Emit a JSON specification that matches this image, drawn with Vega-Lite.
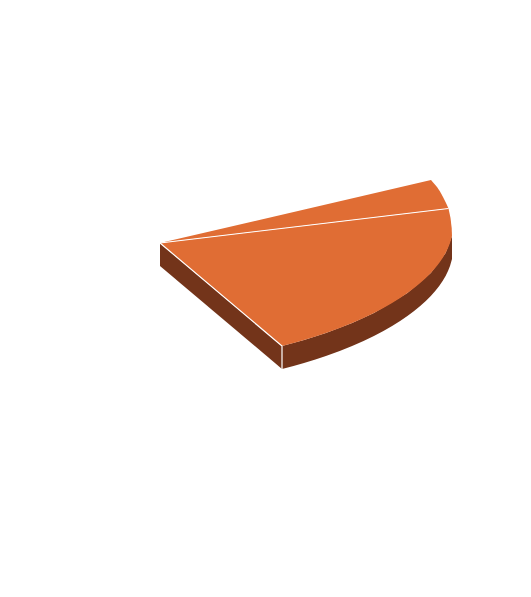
{"$schema":"https://vega.github.io/schema/vega-lite/v6.json","width":531,"height":597,"padding":0,"autosize":{"type":"fit","contains":"padding"},"background":"white","view":{"stroke":null},
"data":{"values":[
{"part":"side","i":1,"x":160,"y":243},{"part":"side","i":2,"x":160,"y":266},{"part":"side","i":3,"x":282,"y":369},{"part":"side","i":4,"x":282,"y":346},
{"part":"rim","i":1,"x":282,"y":346},{"part":"rim","i":2,"x":304,"y":340},{"part":"rim","i":3,"x":325.9,"y":333},{"part":"rim","i":4,"x":352.1,"y":323},{"part":"rim","i":5,"x":373.9,"y":313},{"part":"rim","i":6,"x":407.4,"y":293},{"part":"rim","i":7,"x":430.8,"y":273},{"part":"rim","i":8,"x":445.6,"y":253},{"part":"rim","i":9,"x":452,"y":236},
{"part":"rim","i":10,"x":452,"y":251},{"part":"rim","i":11,"x":452,"y":259},{"part":"rim","i":12,"x":450,"y":266},{"part":"rim","i":13,"x":448,"y":271},{"part":"rim","i":14,"x":445.6,"y":276},{"part":"rim","i":15,"x":442.6,"y":281},{"part":"rim","i":16,"x":439.2,"y":286},{"part":"rim","i":17,"x":435.2,"y":291},{"part":"rim","i":18,"x":430.8,"y":296},{"part":"rim","i":19,"x":425.8,"y":301},{"part":"rim","i":20,"x":420.2,"y":306},{"part":"rim","i":21,"x":414.1,"y":311},{"part":"rim","i":22,"x":407.4,"y":316},{"part":"rim","i":23,"x":400.1,"y":321},{"part":"rim","i":24,"x":392.1,"y":326},{"part":"rim","i":25,"x":383.4,"y":331},{"part":"rim","i":26,"x":373.9,"y":336},{"part":"rim","i":27,"x":363.5,"y":341},{"part":"rim","i":28,"x":352.1,"y":346},{"part":"rim","i":29,"x":339.7,"y":351},{"part":"rim","i":30,"x":325.9,"y":356},{"part":"rim","i":31,"x":315.4,"y":359.5},{"part":"rim","i":32,"x":304,"y":363},{"part":"rim","i":33,"x":293.5,"y":366},{"part":"rim","i":34,"x":282,"y":369},
{"part":"big","i":1,"x":160,"y":243},{"part":"big","i":2,"x":448.5,"y":208.5},{"part":"big","i":3,"x":450.5,"y":218},{"part":"big","i":4,"x":451.7,"y":228},{"part":"big","i":5,"x":452,"y":236},{"part":"big","i":6,"x":450,"y":243},{"part":"big","i":7,"x":448,"y":248},{"part":"big","i":8,"x":445.6,"y":253},{"part":"big","i":9,"x":442.6,"y":258},{"part":"big","i":10,"x":439.2,"y":263},{"part":"big","i":11,"x":435.2,"y":268},{"part":"big","i":12,"x":430.8,"y":273},{"part":"big","i":13,"x":425.8,"y":278},{"part":"big","i":14,"x":420.2,"y":283},{"part":"big","i":15,"x":414.1,"y":288},{"part":"big","i":16,"x":407.4,"y":293},{"part":"big","i":17,"x":400.1,"y":298},{"part":"big","i":18,"x":392.1,"y":303},{"part":"big","i":19,"x":383.4,"y":308},{"part":"big","i":20,"x":373.9,"y":313},{"part":"big","i":21,"x":363.5,"y":318},{"part":"big","i":22,"x":352.1,"y":323},{"part":"big","i":23,"x":339.7,"y":328},{"part":"big","i":24,"x":325.9,"y":333},{"part":"big","i":25,"x":315.4,"y":336.5},{"part":"big","i":26,"x":304,"y":340},{"part":"big","i":27,"x":293.5,"y":343},{"part":"big","i":28,"x":282,"y":346},
{"part":"small","i":1,"x":160,"y":243},{"part":"small","i":2,"x":431,"y":180},{"part":"small","i":3,"x":434,"y":183.5},{"part":"small","i":4,"x":437,"y":187},{"part":"small","i":5,"x":440,"y":191.5},{"part":"small","i":6,"x":443,"y":197},{"part":"small","i":7,"x":446,"y":203},{"part":"small","i":8,"x":448.5,"y":208.5},
{"part":"edge1","i":1,"x":160,"y":243},{"part":"edge1","i":2,"x":448.5,"y":208.5},
{"part":"edge2","i":1,"x":160,"y":243},{"part":"edge2","i":2,"x":282,"y":346},{"part":"edge2","i":3,"x":282,"y":369}
]},
"encoding":{"x":{"field":"x","type":"quantitative","scale":{"domain":[0,531]},"axis":null},"y":{"field":"y","type":"quantitative","scale":{"domain":[597,0]},"axis":null},"order":{"field":"i","type":"quantitative"}},
"layer":[
{"transform":[{"filter":"datum.part==='side'||datum.part==='rim'"}],"mark":{"type":"line","fill":"#73341A","stroke":null},"encoding":{"detail":{"field":"part"}}},
{"transform":[{"filter":"datum.part==='big'||datum.part==='small'"}],"mark":{"type":"line","fill":"#E06D34","stroke":null},"encoding":{"detail":{"field":"part"}}},
{"transform":[{"filter":"datum.part==='edge1'||datum.part==='edge2'"}],"mark":{"type":"line","stroke":"#FFFFFF","strokeWidth":1.2},"encoding":{"detail":{"field":"part"}}}
]}
